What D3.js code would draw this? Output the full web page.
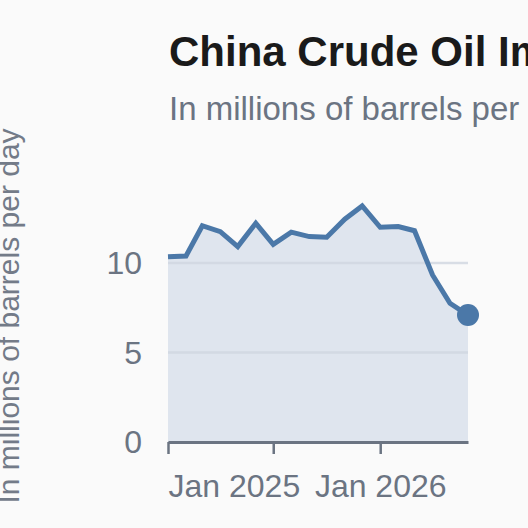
<!DOCTYPE html>
<html>
<head>
<meta charset="utf-8">
<script src="https://cdn.jsdelivr.net/npm/d3@7"></script>
<style>
  html, body { margin: 0; padding: 0; background: #fafafa; overflow: hidden; }
  text { font-family: "Liberation Sans", Arial, sans-serif; }
</style>
</head>
<body>
<svg id="svgContent" width="528" height="528"></svg>
<script>
// monthly imports, Jan 2025 - Jun 2026
const months = ['2025-01', '2025-02', '2025-03', '2025-04', '2025-05', '2025-06',
    '2025-07', '2025-08', '2025-09', '2025-10', '2025-11', '2025-12',
    '2026-01', '2026-02', '2026-03', '2026-04', '2026-05', '2026-06'];
const imports = [10.35, 10.39, 12.08, 11.75, 10.91, 12.22,
    11.04, 11.72, 11.47, 11.44, 12.44, 13.18,
    11.99, 12.03, 11.80, 9.33, 7.75, 7.09];
const yTicks = [0, 5, 10];
const xTickLabels = ['Jan 2025', '', 'Jan 2026'];

const title = 'China Crude Oil Imports';
const subtitle = 'In millions of barrels per day';
const yLabel = 'In millions of barrels per day';

svg = d3.select('#svgContent')
width = +svg.attr('width');
height = +svg.attr('height');

const parse = d3.timeParse('%Y-%m');
const data = months.map((m, i) => ({ date: parse(m), value: imports[i] }));

const plotLeft = 168, plotRight = 468, plotTop = 206, plotBottom = 442;

const x = d3.scaleTime()
    .domain(d3.extent(data, d => d.date))
    .range([plotLeft, plotRight]);

const y = d3.scaleLinear()
    .domain([0, d3.max(imports)])
    .range([plotBottom, plotTop]);

svg.append('rect')
    .attr('width', width)
    .attr('height', height)
    .attr('fill', '#fafafa');

// title + subtitle (run off the right edge, as in the source)
svg.append('text')
    .attr('x', 169)
    .attr('y', 66)
    .attr('font-size', 42)
    .attr('font-weight', 'bold')
    .attr('fill', '#1a1a1a')
    .text(title);

svg.append('text')
    .attr('x', 169)
    .attr('y', 120)
    .attr('font-size', 33)
    .attr('fill', '#6b7482')
    .text(subtitle);

// area under the line
svg.append('path')
    .datum(data)
    .attr('fill', '#dfe5ee')
    .attr('d', d3.area()
        .x(d => x(d.date))
        .y0(y(0))
        .y1(d => y(d.value)));

// gridlines
svg.append('g')
    .selectAll('line')
    .data(yTicks.filter(t => t > 0))
    .enter()
    .append('line')
    .attr('x1', plotLeft)
    .attr('x2', plotRight)
    .attr('y1', d => y(d))
    .attr('y2', d => y(d))
    .attr('stroke', '#cfd6e0')
    .attr('stroke-opacity', 0.8)
    .attr('stroke-width', 2.5);

// y axis (labels only)
const yAxis = svg.append('g')
    .attr('transform', 'translate(' + plotLeft + ',0)')
    .call(d3.axisLeft(y).tickValues(yTicks).tickSize(0).tickPadding(26));
yAxis.select('.domain').remove();
yAxis.selectAll('text')
    .attr('font-size', 32)
    .attr('font-family', '"Liberation Sans", Arial, sans-serif')
    .attr('fill', '#6b7482')
    .attr('dy', '0.34em');

// x axis
const xTicks = [parse('2025-01'), parse('2025-07'), parse('2026-01')];
const xAxis = svg.append('g')
    .attr('transform', 'translate(0,' + plotBottom + ')')
    .call(d3.axisBottom(x)
        .tickValues(xTicks)
        .tickSize(12)
        .tickSizeOuter(0)
        .tickFormat((d, i) => xTickLabels[i]));
xAxis.select('.domain')
    .attr('stroke', '#6b7482')
    .attr('stroke-width', 3);
xAxis.selectAll('.tick line')
    .attr('stroke', '#6b7482')
    .attr('stroke-width', 2.5);
xAxis.selectAll('text')
    .attr('font-size', 32)
    .attr('font-family', '"Liberation Sans", Arial, sans-serif')
    .attr('fill', '#6b7482')
    .attr('y', 0)
    .attr('dy', 55)
    .attr('text-anchor', (d, i) => i === 0 ? 'start' : 'middle');

// line
svg.append('path')
    .datum(data)
    .attr('fill', 'none')
    .attr('stroke', '#4b78a8')
    .attr('stroke-width', 5)
    .attr('stroke-linejoin', 'miter')
    .attr('d', d3.line()
        .x(d => x(d.date))
        .y(d => y(d.value)));

// last point
const last = data[data.length - 1];
svg.append('circle')
    .attr('cx', x(last.date))
    .attr('cy', y(last.value))
    .attr('r', 11)
    .attr('fill', '#4b78a8');

// y axis title
svg.append('text')
    .attr('transform', 'translate(19,316) rotate(-90)')
    .attr('text-anchor', 'middle')
    .attr('font-size', 30)
    .attr('fill', '#737b88')
    .text(yLabel);
</script>
</body>
</html>
